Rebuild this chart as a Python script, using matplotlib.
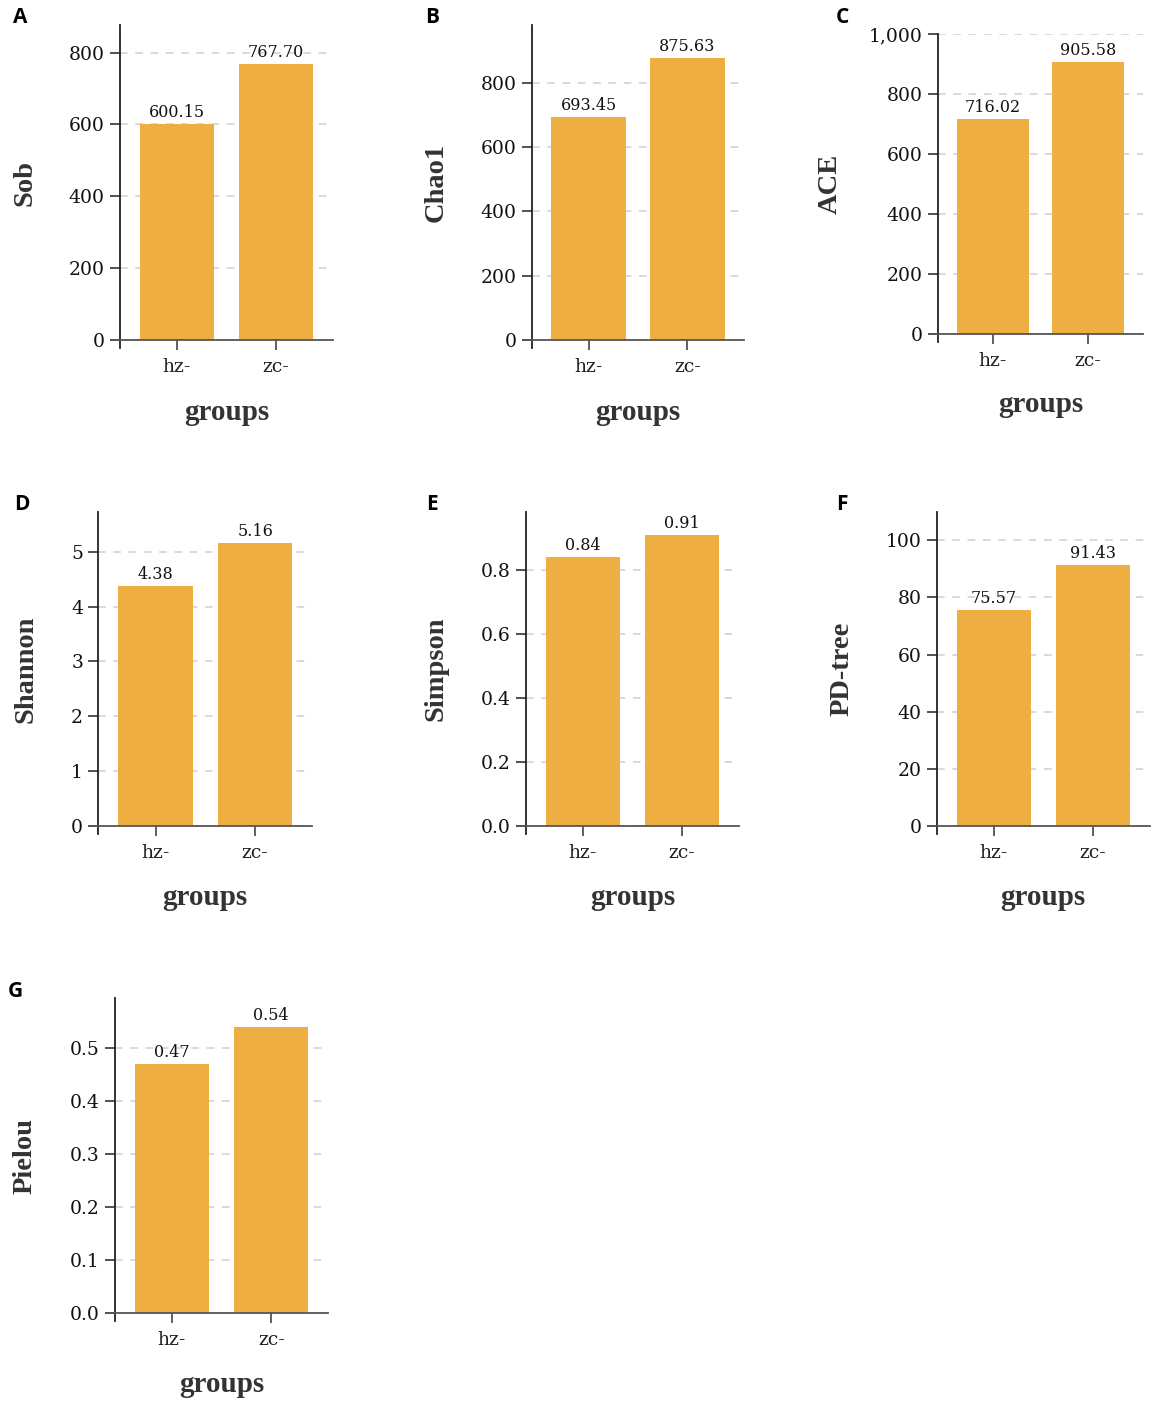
import matplotlib
matplotlib.use('Agg')
import matplotlib.pyplot as plt
from matplotlib.ticker import MultipleLocator, FuncFormatter

# ---------------- data ----------------
groups = ['hz-', 'zc-']
sob = [600.15, 767.70]
chao1 = [693.45, 875.63]
ace = [716.02, 905.58]
shannon = [4.38, 5.16]
simpson = [0.84, 0.91]
pd_tree = [75.57, 91.43]
pielou = [0.47, 0.54]

panel_letters = ['A', 'B', 'C', 'D', 'E', 'F', 'G']
metric_names = ['Sob', 'Chao1', 'ACE', 'Shannon', 'Simpson', 'PD-tree', 'Pielou']
metric_values = [sob, chao1, ace, shannon, simpson, pd_tree, pielou]
y_max = [877, 979, 1000, 5.73, 0.982, 110, 0.595]
y_step = [200, 200, 200, 1, 0.2, 20, 0.1]
y_fmt = ['{:.0f}', '{:.0f}', '{:,.0f}', '{:.0f}', '{:.1f}', '{:.0f}', '{:.1f}']

# ---------------- layout (pixels) ----------------
W, H = 1162, 1414
# left, top, right, bottom of axes in pixels
boxes = [
    (120, 25, 333, 340),
    (531.7, 25, 744.3, 340),
    (938, 34, 1143, 334),
    (98.3, 511.7, 312.3, 826),
    (525.7, 511.7, 739.3, 826),
    (936.7, 511.7, 1150, 826),
    (115, 998.3, 328.3, 1312.7),
]
ylabel_x = [25, 436, 830, 26, 436, 842, 25]
xlabel_base = [420, 420, 412, 905, 905, 905, 1392]
letter_pos = [(13, 23), (425, 23), (836, 23), (14, 510), (426, 510), (836, 510), (8, 997)]

BAR = '#EEAE42'
SERIF = 'Liberation Serif'
NUM = 'DejaVu Serif'

fig = plt.figure(figsize=(W / 100, H / 100), dpi=100)

for i in range(7):
    l, t, r, b = boxes[i]
    ax = fig.add_axes([l / W, 1 - b / H, (r - l) / W, (b - t) / H])
    vals = metric_values[i]
    x = list(range(len(groups)))
    ax.bar(x, vals, width=0.75, color=BAR, zorder=2)
    ax.set_xlim(-0.575, 1.575)
    ax.set_ylim(0, y_max[i])
    ax.yaxis.set_major_locator(MultipleLocator(y_step[i]))
    fmt = y_fmt[i]
    ax.yaxis.set_major_formatter(FuncFormatter(lambda v, p, f=fmt: f.format(v)))
    ax.set_xticks(x)
    ax.set_xticklabels(groups, fontfamily=NUM, fontsize=13.5, color='#222222')
    ax.tick_params(axis='y', labelsize=13.5, labelcolor='#111111', length=7,
                   width=1.2, color='#333333', pad=4, direction='out')
    for lab in ax.get_yticklabels():
        lab.set_fontfamily(NUM)
    ax.tick_params(axis='x', length=7, width=1.2, color='#444444', pad=6, direction='out')
    # gridlines (dashed, skip zero)
    ax.yaxis.grid(True, linestyle=(0, (5, 5)), color='#cfcfcf', linewidth=1.1, zorder=0)
    ax.set_axisbelow(True)
    gl = ax.get_ygridlines()
    if gl:
        gl[0].set_visible(False)
    for s in ['top', 'right']:
        ax.spines[s].set_visible(False)
    ax.spines['left'].set_color('#222222')
    ax.spines['left'].set_linewidth(1.3)
    ax.spines['bottom'].set_color('#555555')
    ax.spines['bottom'].set_linewidth(1.3)
    ext = 8.0 / (b - t) * y_max[i]
    ax.spines['left'].set_bounds(-ext, y_max[i])
    ax.spines['left'].set_clip_on(False)
    # value labels
    for xi, v in zip(x, vals):
        ax.annotate('{:.2f}'.format(v), xy=(xi, v), xytext=(0, 3),
                    textcoords='offset pixels', ha='center', va='bottom',
                    fontfamily=NUM, fontsize=11.5, color='#111111', zorder=3)
    # axis titles
    fig.text(ylabel_x[i] / W, 1 - ((t + b) / 2) / H, metric_names[i], rotation=90,
             ha='center', va='center', fontfamily=SERIF, fontweight='bold',
             fontsize=20.5, color='#333333')
    fig.text(((l + r) / 2) / W, 1 - xlabel_base[i] / H, 'groups',
             ha='center', va='baseline', fontfamily=SERIF, fontweight='bold',
             fontsize=21, color='#333333')
    lx, ly = letter_pos[i]
    fig.text(lx / W, 1 - ly / H, panel_letters[i], ha='left', va='baseline',
             fontfamily='Open Sans', fontweight='bold', fontsize=15, color='#000000')

fig.savefig('out.png', dpi=100, facecolor='white')
